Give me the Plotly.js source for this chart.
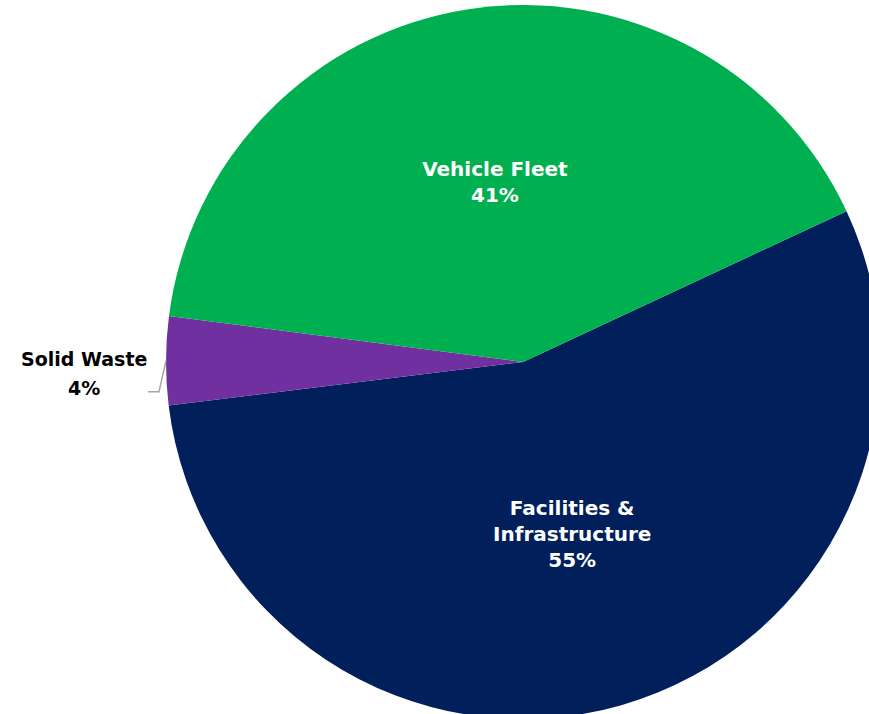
<!DOCTYPE html>
<html>
<head>
<meta charset="utf-8">
<script src="https://cdn.plot.ly/plotly-3.0.1.min.js"></script>
<style>
html,body{margin:0;padding:0;overflow:hidden;background:#fff;width:869px;height:714px;}
#chart{width:900px;height:730px;}
</style>
</head>
<body>
<div id="chart"></div>
<script>
const categories = ["Facilities &<br>Infrastructure", "Solid Waste", "Vehicle Fleet"];
const values = [55, 4, 41];
const colors = ["#001F5B", "#7030A0", "#00B050"];
const textPositions = ["inside", "none", "inside"];

// figure geometry
const W = 900, H = 730;
const pieLeft = 166, pieRight = 880, pieTop = 5, pieBottom = 719;
const rotationDeg = 65;
const FONT = "DejaVu Sans, sans-serif";

const trace = {
  type: "pie",
  labels: categories,
  values: values,
  sort: false,
  direction: "clockwise",
  rotation: rotationDeg,
  marker: {colors: colors, line: {width: 0}},
  textinfo: "label+percent",
  textposition: textPositions,
  insidetextorientation: "horizontal",
  textfont: {family: FONT, size: 20, color: "#FFFFFF", weight: "bold"},
  hoverinfo: "none",
  domain: {x: [pieLeft / W, pieRight / W], y: [1 - pieBottom / H, 1 - pieTop / H]}
};

// outside label for the small slice, with an elbow leader line
const total = values.reduce((a, b) => a + b, 0);
const idx = 1;
const before = values.slice(0, idx).reduce((a, b) => a + b, 0);
const midDeg = rotationDeg + (before + values[idx] / 2) / total * 360;
const cx = (pieLeft + pieRight) / 2, cy = (pieTop + pieBottom) / 2, r = (pieRight - pieLeft) / 2;
const a = midDeg * Math.PI / 180;
const ax = cx + r * Math.sin(a), ay = cy - r * Math.cos(a);
const ex = ax - 7, ey = ay + 31;
const tx = ex - 11;
const px = v => v / W, py = v => 1 - v / H;
const pct = Math.round(values[idx] / total * 100) + "%";

const layout = {
  width: W, height: H,
  margin: {l: 0, r: 0, t: 0, b: 0},
  showlegend: false,
  paper_bgcolor: "#ffffff",
  shapes: [{
    type: "path", xref: "paper", yref: "paper",
    path: `M ${px(ax)} ${py(ay)} L ${px(ex)} ${py(ey)} L ${px(tx)} ${py(ey)}`,
    line: {color: "#A6A6A6", width: 1.5}
  }],
  annotations: [
    {xref: "paper", yref: "paper", x: px(tx - 64), y: py(ey - 33), text: "<b>Solid Waste</b>",
     showarrow: false, xanchor: "center", yanchor: "middle", font: {family: FONT, size: 19, color: "#000"}},
    {xref: "paper", yref: "paper", x: px(tx - 64), y: py(ey - 4), text: "<b>" + pct + "</b>",
     showarrow: false, xanchor: "center", yanchor: "middle", font: {family: FONT, size: 19, color: "#000"}}
  ]
};

Plotly.newPlot("chart", [trace], layout, {displayModeBar: false, staticPlot: true});
</script>
</body>
</html>
